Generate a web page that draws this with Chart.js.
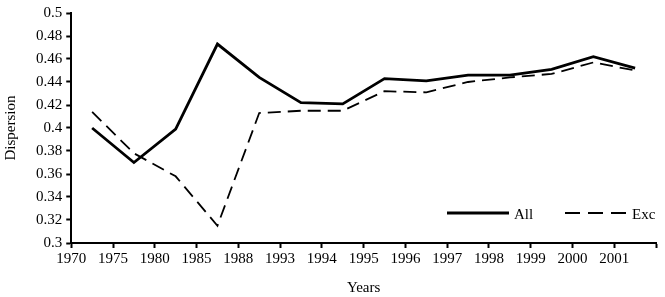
<!DOCTYPE html>
<html>
<head>
<meta charset="utf-8">
<script src="https://cdn.jsdelivr.net/npm/chart.js@4.4.0/dist/chart.umd.min.js"></script>
<style>
  html, body { margin: 0; padding: 0; background: #fff; }
  #wrap { width: 665px; height: 297px; }
</style>
</head>
<body>
<div id="wrap"><canvas id="lineChart"></canvas></div>
<script>
// Data
var years = ['1970', '1975', '1980', '1985', '1988', '1993', '1994', '1995', '1996', '1997', '1998', '1999', '2000', '2001'];
var allValues = [0.400, 0.370, 0.399, 0.473, 0.444, 0.422, 0.421, 0.443, 0.441, 0.446, 0.446, 0.451, 0.462, 0.452];
var excValues = [0.414, 0.378, 0.358, 0.315, 0.413, 0.415, 0.415, 0.432, 0.431, 0.440, 0.444, 0.447, 0.457, 0.450];

// points sit between the tick marks, labels sit on them
function toPoints(values) {
    return values.map(function (v, i) { return { x: i + 0.5, y: v }; });
}

var font = "'Liberation Serif', 'DejaVu Serif', serif";

// small legend drawn inside the plot, lower right
var insideLegend = {
    id: 'insideLegend',
    afterDraw: function (chart) {
        var ctx = chart.ctx;
        var y = 213;
        ctx.save();
        ctx.strokeStyle = '#000';
        ctx.lineWidth = 3;
        ctx.beginPath();
        ctx.moveTo(447, y);
        ctx.lineTo(509, y);
        ctx.stroke();
        ctx.lineWidth = 2;
        ctx.setLineDash([15, 8]);
        ctx.beginPath();
        ctx.moveTo(565, y);
        ctx.lineTo(627, y);
        ctx.stroke();
        ctx.setLineDash([]);
        ctx.fillStyle = '#000';
        ctx.font = '15px ' + font;
        ctx.textBaseline = 'middle';
        ctx.fillText('All', 514, y + 2);
        ctx.fillText('Exc', 632, y + 2);
        ctx.restore();
    }
};

var ctx = document.getElementById('lineChart').getContext('2d');
var chart = new Chart(ctx, {
    type: 'line',
    data: {
        datasets: [{
            label: 'All',
            data: toPoints(allValues),
            borderColor: '#000',
            borderWidth: 2.8,
            pointRadius: 0,
            tension: 0
        }, {
            label: 'Exc',
            data: toPoints(excValues),
            borderColor: '#000',
            borderWidth: 1.8,
            borderDash: [13, 7],
            pointRadius: 0,
            tension: 0
        }]
    },
    options: {
        responsive: true,
        maintainAspectRatio: false,
        animation: false,
        layout: { padding: { top: 0, right: 9, left: 2, bottom: 0 } },
        plugins: {
            legend: { display: false },
            tooltip: { enabled: false }
        },
        scales: {
            x: {
                type: 'linear',
                min: 0,
                max: 14,
                ticks: {
                    stepSize: 1,
                    autoSkip: false,
                    maxRotation: 0,
                    color: '#000',
                    font: { family: font, size: 15 },
                    padding: 2,
                    callback: function (v) { return years[v] || ''; }
                },
                grid: {
                    drawOnChartArea: false,
                    drawTicks: true,
                    tickLength: 5,
                    tickColor: '#000',
                    tickWidth: 2
                },
                border: { display: true, color: '#000', width: 2 },
                title: {
                    display: true,
                    text: 'Years',
                    color: '#000',
                    font: { family: font, size: 15 },
                    padding: { top: 9, bottom: 0 }
                }
            },
            y: {
                min: 0.3,
                max: 0.5,
                ticks: {
                    stepSize: 0.02,
                    color: '#000',
                    font: { family: font, size: 15 },
                    padding: 4,
                    callback: function (v) { return String(+v.toFixed(2)); }
                },
                grid: {
                    drawOnChartArea: false,
                    drawTicks: true,
                    tickLength: 5,
                    tickColor: '#000',
                    tickWidth: 2
                },
                border: { display: true, color: '#000', width: 2 },
                title: {
                    display: true,
                    text: 'Dispersion',
                    color: '#000',
                    font: { family: font, size: 15 },
                    padding: { top: 0, bottom: 12 }
                }
            }
        }
    },
    plugins: [insideLegend]
});
</script>
</body>
</html>
